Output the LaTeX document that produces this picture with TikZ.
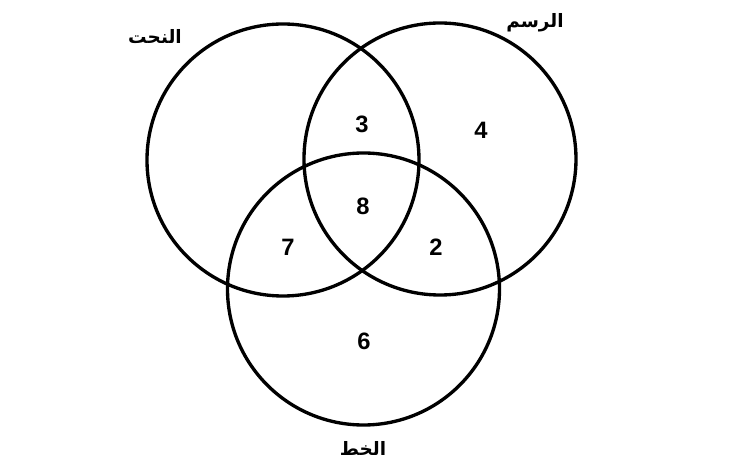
\documentclass[tikz,border=0pt]{standalone}
\usepackage{fontspec}
\setmainfont{Liberation Sans}
\newfontfamily\arabicfont[Script=Arabic]{DejaVu Sans}
\TeXXeTstate=1
\begin{document}
\begin{tikzpicture}[x=0.02cm, y=-0.02cm,
        num/.style={font=\bfseries\fontsize{13.5}{15}\selectfont, inner sep=0pt},
        setname/.style={font=\arabicfont\bfseries\fontsize{10.5}{12}\selectfont, inner sep=0pt},
        ring/.style={line width=1.9pt, color=black}]
            \useasboundingbox (0,0) rectangle (735,476);
            \coordinate (naht) at (283,160);
            \coordinate (rasm) at (440,159);
            \coordinate (khatt) at (363.5,289);
            \draw[ring] (naht) circle (136);
            \draw[ring] (rasm) circle (136);
            \draw[ring] (khatt) circle (136);
            \node[setname] (lnaht) at (155,37) {\beginR النحت\endR};
            \node[setname] (lrasm) at (535,23) {\beginR الرسم\endR};
            \node[setname] (lkhatt) at (363,448) {\beginR الخط\endR};
            \node[num] (nr) at (362,124) {3};
            \node[num] (r) at (481,130) {4};
            \node[num] (all) at (363,206) {8};
            \node[num] (nk) at (288,247) {7};
            \node[num] (rk) at (436,247) {2};
            \node[num] (k) at (364,341) {6};
        \end{tikzpicture}
\end{document}
